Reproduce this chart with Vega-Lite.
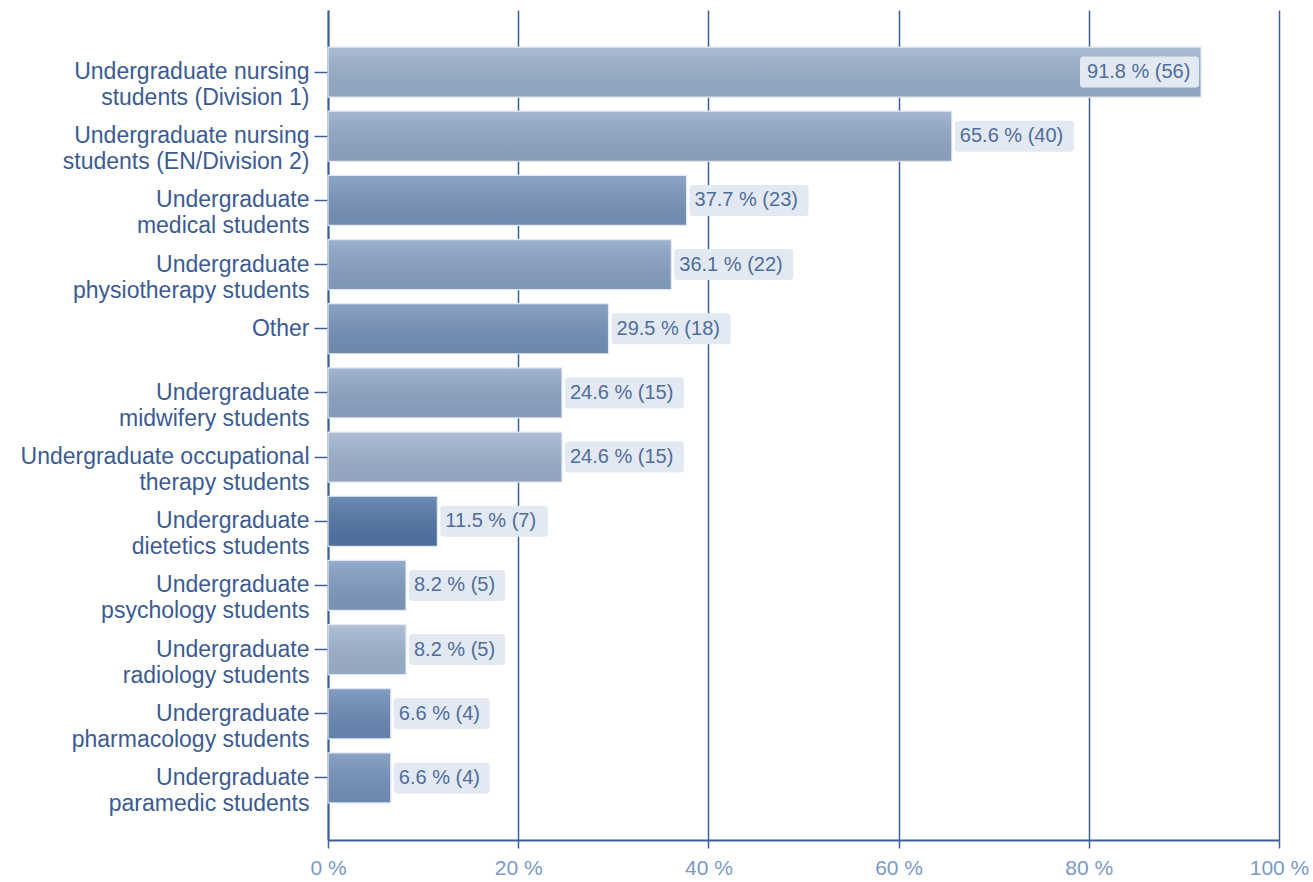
{
  "$schema": "https://vega.github.io/schema/vega-lite/v6.json",
  "width": 951,
  "height": 830,
  "autosize": {"type": "none"},
  "padding": {"left": 328, "top": 10, "right": 34, "bottom": 42},
  "background": "white",
  "config": {"view": {"stroke": null}},
  "data": {
    "values": [
      {"group": "Undergraduate nursing|students (Division 1)", "pct": 91.8, "n": 56},
      {"group": "Undergraduate nursing|students (EN/Division 2)", "pct": 65.6, "n": 40},
      {"group": "Undergraduate|medical students", "pct": 37.7, "n": 23},
      {"group": "Undergraduate|physiotherapy students", "pct": 36.1, "n": 22},
      {"group": "Other", "pct": 29.5, "n": 18},
      {"group": "Undergraduate|midwifery students", "pct": 24.6, "n": 15},
      {"group": "Undergraduate occupational|therapy students", "pct": 24.6, "n": 15},
      {"group": "Undergraduate|dietetics students", "pct": 11.5, "n": 7},
      {"group": "Undergraduate|psychology students", "pct": 8.2, "n": 5},
      {"group": "Undergraduate|radiology students", "pct": 8.2, "n": 5},
      {"group": "Undergraduate|pharmacology students", "pct": 6.6, "n": 4},
      {"group": "Undergraduate|paramedic students", "pct": 6.6, "n": 4}
    ]
  },
  "transform": [
    {"calculate": "format(datum.pct, '.1f') + ' % (' + datum.n + ')'", "as": "label"}
  ],
  "encoding": {
    "y": {
      "field": "group",
      "type": "nominal",
      "sort": null,
      "scale": {"paddingInner": 0.22, "paddingOuter": 0.577},
      "axis": {
        "title": null,
        "labelExpr": "split(datum.value, '|')",
        "labelFont": "Liberation Sans",
        "labelFontSize": 23,
        "labelLineHeight": 26,
        "labelColor": "#3b5b92",
        "labelPadding": 5,
        "labelLimit": 400,
        "tickSize": 14,
        "tickWidth": 1.5,
        "tickColor": "#3c5f94",
        "domainColor": "#3c5f94",
        "domainWidth": 2,
        "grid": false
      }
    }
  },
  "layer": [
    {
      "mark": {"type": "bar"},
      "encoding": {
        "x": {
          "field": "pct",
          "type": "quantitative",
          "scale": {"domain": [0, 100], "nice": false},
          "axis": {
            "title": null,
            "values": [0, 20, 40, 60, 80, 100],
            "labelExpr": "datum.value + ' %'",
            "labelFont": "Liberation Sans",
            "labelFontSize": 21,
            "labelColor": "#7a99c6",
            "labelPadding": 9,
            "labelFlush": false,
            "labelOverlap": false,
            "tickSize": 8,
            "tickWidth": 1.5,
            "tickColor": "#3c5f94",
            "domainColor": "#3c5f94",
            "domainWidth": 2,
            "grid": true,
            "gridColor": "#3c5f94",
            "gridWidth": 1.5,
            "gridOpacity": 1
          }
        },
        "color": {
          "field": "group",
          "type": "nominal",
          "sort": null,
          "legend": null,
          "scale": {
            "range": ["#9bb0cc", "#93a9c8", "#7995bd", "#8aa2c5", "#7592bb", "#8fa6c7", "#9db1cd", "#5276a5", "#819cc2", "#a0b4cf", "#6c8ab6", "#7592bc"]
          }
        }
      }
    },
    {
      "mark": {
        "type": "bar",
        "stroke": "#e2e8f1",
        "strokeWidth": 1.2,
        "color": {
          "gradient": "linear",
          "x1": 0, "y1": 0, "x2": 0, "y2": 1,
          "stops": [
            {"offset": 0, "color": "rgba(255,255,255,0.16)"},
            {"offset": 1, "color": "rgba(0,0,0,0.07)"}
          ]
        }
      },
      "encoding": {
        "x": {"field": "pct", "type": "quantitative"}
      }
    },
    {
      "mark": {
        "type": "bar",
        "height": 31,
        "cornerRadius": 3,
        "color": "#e3e9f2",
        "xOffset": {"expr": "datum.pct > 85 ? -(11.5 * length(datum.label) - 5.5) : 3"},
        "x2Offset": {"expr": "datum.pct > 85 ? -2 : 11.5 * length(datum.label) - 4.5"}
      },
      "encoding": {
        "x": {"field": "pct", "type": "quantitative"},
        "x2": {"field": "pct"}
      }
    },
    {
      "mark": {
        "type": "text",
        "align": "left",
        "baseline": "middle",
        "font": "Liberation Sans",
        "fontSize": 20,
        "color": "#4f6d9c",
        "dx": {"expr": "datum.pct > 85 ? -(11.5 * length(datum.label) - 5.5) + 7 : 8"}
      },
      "encoding": {
        "x": {"field": "pct", "type": "quantitative"},
        "text": {"field": "label"}
      }
    }
  ]
}
